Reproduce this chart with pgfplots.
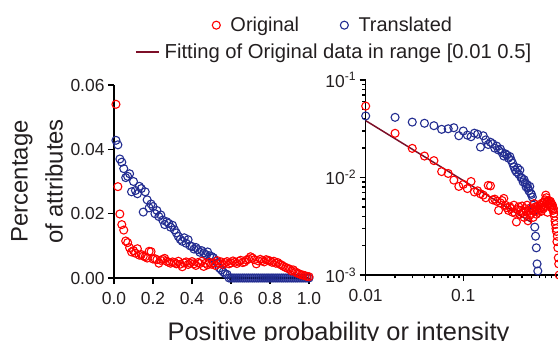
\documentclass[border=0pt]{standalone}
\usepackage{fontspec}
\setmainfont{Liberation Sans}
\usepackage{pgfplots}
\usepackage{pgfplotstable}
\pgfplotsset{compat=1.18}
\definecolor{ored}{RGB}{255,0,0}
\definecolor{tblue}{RGB}{35,45,145}
\definecolor{fitc}{RGB}{125,15,40}
\definecolor{txt}{RGB}{35,31,32}

\pgfplotstableread{
x y
0.01 0.0540
0.02 0.0284
0.03 0.0199
0.04 0.0166
0.05 0.0149
0.06 0.0115
0.07 0.0110
0.08 0.0094
0.09 0.0081
0.10 0.0085
0.11 0.0077
0.12 0.0091
0.13 0.0071
0.14 0.0073
0.15 0.0068
0.16 0.0066
0.17 0.0062
0.18 0.0083
0.19 0.0082
0.20 0.0059
0.21 0.0060
0.22 0.0057
0.23 0.0046
0.24 0.0055
0.25 0.0058
0.26 0.0061
0.27 0.0052
0.28 0.0049
0.29 0.0046
0.30 0.0050
0.31 0.0048
0.32 0.0044
0.33 0.0052
0.34 0.0043
0.35 0.0035
0.36 0.0047
0.37 0.0050
0.38 0.0042
0.39 0.0046
0.40 0.0051
0.41 0.0044
0.42 0.0039
0.43 0.0048
0.44 0.0045
0.45 0.0052
0.46 0.0036
0.47 0.0046
0.48 0.0041
0.49 0.0049
0.50 0.0043
0.51 0.0047
0.52 0.0039
0.53 0.0054
0.54 0.0045
0.55 0.0050
0.56 0.0042
0.57 0.0048
0.58 0.0051
0.59 0.0044
0.60 0.0047
0.61 0.0053
0.62 0.0049
0.63 0.0045
0.64 0.0052
0.65 0.0055
0.66 0.0048
0.67 0.0050
0.68 0.0056
0.69 0.0059
0.70 0.0066
0.71 0.0062
0.72 0.0057
0.73 0.0044
0.74 0.0053
0.75 0.0058
0.76 0.0054
0.77 0.0050
0.78 0.0057
0.79 0.0055
0.80 0.0053
0.81 0.0049
0.82 0.0052
0.83 0.0046
0.84 0.0048
0.85 0.0043
0.86 0.0040
0.87 0.0036
0.88 0.0033
0.89 0.0030
0.90 0.0028
0.91 0.0022
0.92 0.0025
0.93 0.0019
0.94 0.0015
0.95 0.0013
0.96 0.0010
0.97 0.0009
0.98 0.0007
0.99 0.0005
1.00 0.0004
}\orig

\pgfplotstableread{
x y
0.01 0.0428
0.02 0.0414
0.03 0.0370
0.04 0.0360
0.05 0.0340
0.06 0.0312
0.07 0.0316
0.08 0.0324
0.09 0.0268
0.10 0.0300
0.11 0.0272
0.12 0.0262
0.13 0.0285
0.14 0.0278
0.15 0.0205
0.16 0.0268
0.17 0.0243
0.18 0.0218
0.19 0.0230
0.20 0.0222
0.21 0.0200
0.22 0.0210
0.23 0.0191
0.24 0.0196
0.25 0.0180
0.26 0.0166
0.27 0.0175
0.28 0.0170
0.29 0.0158
0.30 0.0164
0.31 0.0150
0.32 0.0140
0.33 0.0129
0.34 0.0120
0.35 0.0114
0.36 0.0125
0.37 0.0108
0.38 0.0119
0.39 0.0100
0.40 0.0098
0.41 0.0090
0.42 0.0095
0.43 0.0088
0.44 0.0080
0.45 0.0085
0.46 0.0078
0.47 0.0073
0.48 0.0081
0.49 0.0069
0.50 0.0067
0.51 0.0063
0.52 0.0052
0.53 0.0046
0.54 0.0031
0.55 0.0025
0.56 0.0019
0.57 0.0013
0.58 0.0011
0.59 0
0.60 0
0.61 0
0.62 0
0.63 0
0.64 0
0.65 0
0.66 0
0.67 0
0.68 0
0.69 0
0.70 0
0.71 0
0.72 0
0.73 0
0.74 0
0.75 0
0.76 0
0.77 0
0.78 0
0.79 0
0.80 0
0.81 0
0.82 0
0.83 0
0.84 0
0.85 0
0.86 0
0.87 0
0.88 0
0.89 0
0.90 0
0.91 0
0.92 0
0.93 0
0.94 0
0.95 0
0.96 0
0.97 0
0.98 0
0.99 0
1.00 0
}\trans

\pgfplotsset{
  myaxis/.style={
    scale only axis, anchor=south west, clip=false,
    axis x line=bottom, axis y line=left,
    axis line style={-, line width=1.6bp, black},
    tick align=outside,
    major tick length=6bp, minor tick length=3.5bp,
    every tick/.style={black, line width=1.4bp},
    tick label style={font=\fontsize{17.5}{20}\selectfont, text=txt},
    xticklabel style={yshift=-5bp},
    scaled ticks=false,
  },
  redm/.style={only marks, mark=o, color=ored, mark size=4bp, mark options={line width=1.1bp}},
  bluem/.style={only marks, mark=o, color=tblue, mark size=4bp, mark options={line width=1.1bp}},
}

\begin{document}
\begin{tikzpicture}
\useasboundingbox (0,0) rectangle (558bp,341bp);

\begin{axis}[myaxis,
  at={(114bp,63bp)}, width=195bp, height=193bp,
  xmin=0, xmax=1, ymin=0, ymax=0.06,
  xtick={0,0.2,0.4,0.6,0.8,1}, xticklabels={0.0,0.2,0.4,0.6,0.8,1.0},
  ytick={0,0.02,0.04,0.06}, yticklabels={0.00,0.02,0.04,0.06},
  ylabel={Percentage\\of attributes},
  every axis y label/.style={at={(axis description cs:-0.2615,0.5)}, anchor=south, rotate=90,
     align=center, inner sep=0pt, font=\fontsize{24}{35}\selectfont, text=txt},
  legend columns=2,
  legend image code/.code={\draw[#1] plot coordinates {(10bp,0bp)}; \path (0bp,0bp) (22bp,0bp);},
  legend style={draw=none, fill=none, at={(axis description cs:0.456,1.31)}, anchor=west,
     font=\fontsize{20}{24}\selectfont, text=txt,
     /tikz/every even column/.append style={column sep=33bp}},
]
\addplot[bluem, forget plot] table[x=x, y=y] {\trans};
\addplot[redm, forget plot] table[x=x, y=y] {\orig};
\addlegendimage{redm}
\addlegendentry{Original}
\addlegendimage{bluem}
\addlegendentry{Translated}
\end{axis}

\begin{axis}[myaxis,
  at={(365.7bp,66bp)}, width=195.2bp, height=195bp,
  xmode=log, ymode=log,
  xmin=0.01, xmax=1, ymin=0.001, ymax=0.1,
  xtick={0.01,0.1,1}, xticklabels={0.01,0.1,{}},
  minor xtick={0.02,0.03,0.04,0.05,0.06,0.07,0.08,0.09,0.2,0.3,0.4,0.5,0.6,0.7,0.8,0.9},
  ytick={0.001,0.01,0.1}, yticklabels={10\textsuperscript{-3},10\textsuperscript{-2},10\textsuperscript{-1}},
  minor ytick={0.002,0.003,0.004,0.005,0.006,0.007,0.008,0.009,0.02,0.03,0.04,0.05,0.06,0.07,0.08,0.09},
  legend style={draw=none, fill=none, at={(axis description cs:-1.197,1.1436)}, anchor=west,
     font=\fontsize{20.3}{24}\selectfont, text=txt},
  legend image code/.code={\draw[#1] (0bp,0bp) -- (23bp,0bp); \path (0bp,0bp) (26bp,0bp);},
]
\addplot[bluem, forget plot, unbounded coords=discard] table[x=x, y=y] {\trans};
\addplot[redm, forget plot, restrict y to domain=-6.95:10] table[x=x, y=y] {\orig};
\addplot[fitc, line width=1.5bp, no marks] coordinates {(0.01,0.0383) (0.5,0.00346)};
\addlegendentry{Fitting of Original data in range [0.01 0.5]}
\end{axis}

\node[anchor=base, font=\fontsize{25.5}{30}\selectfont, text=txt, inner sep=0pt] at (338.5bp,1bp) {Positive probability or intensity};
\end{tikzpicture}
\end{document}
